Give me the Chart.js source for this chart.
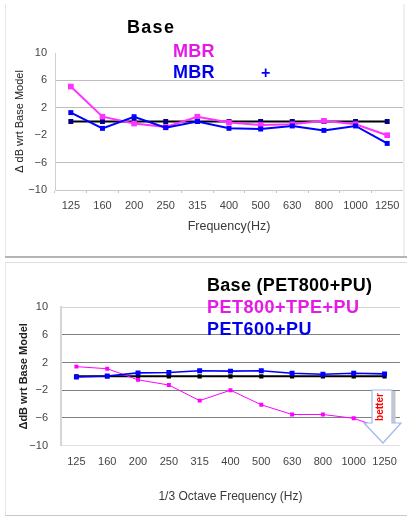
<!DOCTYPE html>
<html><head><meta charset="utf-8">
<script src="https://cdn.jsdelivr.net/npm/chart.js@4"></script>
<style>
html,body{margin:0;padding:0;background:#fff;}
#wrap{position:relative;width:407px;height:517px;overflow:hidden;background:#fff;}
.panel{position:absolute;left:0;width:407px;}
#p1{top:0;height:258px;}
#p2{top:260px;height:257px;}
.ln{position:absolute;}
</style></head><body>
<div id="wrap">
<div class="panel" id="p1"><canvas id="c1" width="407" height="258"></canvas></div>
<div class="panel" id="p2"><canvas id="c2" width="407" height="257"></canvas></div>
<div class="ln" style="left:5px;top:4px;width:1px;height:252px;background:#e6e6e6"></div>
<div class="ln" style="left:403px;top:4px;width:2px;height:252px;background:#f0f0f0"></div>
<div class="ln" style="left:5px;top:256px;width:402px;height:2px;background:#b4b4b4"></div>
<div class="ln" style="left:5px;top:262px;width:402px;height:1px;background:#dcdcdc"></div>
<div class="ln" style="left:5px;top:262px;width:1px;height:253px;background:#e6e6e6"></div>
<div class="ln" style="left:5px;top:515px;width:402px;height:1px;background:#c8c8c8"></div>
</div>
<script>
// ---- data ----
const categories = ['125','160','200','250','315','400','500','630','800','1000','1250'];
const yTickValues = [-10,-6,-2,2,6,10];

const topSeriesNames = ['Base','MBR','MBR +'];
const topBase     = [0,0,0,0,0,0,0,0,0,0,0];
const topMBR      = [5.1,0.7,-0.3,-0.8,0.7,-0.15,-0.5,-0.4,0.1,-0.4,-2.0];
const topMBRPlus  = [1.3,-1.0,0.7,-0.9,0.0,-1.0,-1.1,-0.65,-1.3,-0.65,-3.2];

const botSeriesNames = ['Base (PET800+PU)','PET800+TPE+PU','PET600+PU'];
const botBase     = [0,0,0,0,0,0,0,0,0,0,0];
const botTPE      = [1.4,1.1,-0.5,-1.25,-3.5,-2.0,-4.1,-5.5,-5.5,-6.05,-7.6];
const botPET600   = [-0.1,0.05,0.5,0.55,0.8,0.75,0.8,0.45,0.3,0.45,0.35];

const FONT = "'Liberation Sans', Arial, sans-serif";
const fmt = v => v < 0 ? '\u2212' + Math.abs(v) : String(v);

function textPlugin(id, items) {
  return {
    id,
    afterDraw(chart) {
      const ctx = chart.ctx;
      ctx.save();
      ctx.textBaseline = 'alphabetic';
      ctx.textAlign = 'left';
      items.forEach(it => {
        ctx.font = it.font;
        ctx.fillStyle = it.color;
        ctx.letterSpacing = (it.ls || 0) + 'px';
        ctx.fillText(it.text, it.x, it.y);
      });
      ctx.restore();
    }
  };
}

// ---------- top chart ----------
new Chart(document.getElementById('c1'), {
  type: 'line',
  data: {
    labels: categories,
    datasets: [
      {label: topSeriesNames[2], data: topMBRPlus, borderColor:'#0000ff', backgroundColor:'#0000ff',
       borderWidth:2, pointStyle:'rect', pointRadius:3.5, pointBorderWidth:0, order:0},
      {label: topSeriesNames[1], data: topMBR, borderColor:'#ff33ff', backgroundColor:'#ff33ff',
       borderWidth:2, pointStyle:'rect', pointRadius:4, pointBorderWidth:0, order:1},
      {label: topSeriesNames[0], data: topBase, borderColor:'#000000', backgroundColor:'#000080',
       borderWidth:2, pointStyle:'rect', pointRadius:3.5, pointBorderWidth:0, order:2}
    ]
  },
  options: {
    responsive:false, animation:false, devicePixelRatio:1,
    layout:{padding:{left:5,right:4,top:53,bottom:20}},
    plugins:{legend:{display:false}, tooltip:{enabled:false}},
    elements:{line:{tension:0}},
    scales:{
      x:{
        offset:true,
        grid:{offset:true, drawOnChartArea:false, drawTicks:true, tickLength:3, color:'#c4c4c4'},
        border:{color:'#c8c8c8'},
        ticks:{font:{family:FONT,size:11}, color:'#444', padding:6, maxRotation:0, autoSkip:false},
        title:{display:true, text:'Frequency(Hz)', font:{family:FONT,size:12.5}, color:'#3a3a3a', padding:{top:0,bottom:3.8}},
        afterFit(s){ s.height = 48; }
      },
      y:{
        min:-10, max:10,
        afterBuildTicks(s){ s.ticks = yTickValues.map(v=>({value:v})); },
        grid:{drawTicks:false, color: c => (c.tick && (Math.abs(c.tick.value)===10 || c.tick.value===-2)) ? 'rgba(0,0,0,0)' : '#bdbdbd'},
        border:{color:'#d0d0d0'},
        ticks:{font:{family:FONT,size:11}, color:'#444', padding:8, callback: v => fmt(v)},
        title:{display:true, text:'\u0394 dB wrt Base Model', font:{family:FONT,size:11}, color:'#222', padding:{top:8.5,bottom:0}},
        afterFit(s){ s.width = 50; }
      }
    }
  },
  plugins:[textPlugin('legendTop', [
    {text:'Base', x:127, y:33, font:'bold 18px '+FONT, color:'#000', ls:1.3},
    {text:'MBR', x:173, y:56.5, font:'bold 18px '+FONT, color:'#e619e6', ls:0.3},
    {text:'MBR', x:173, y:78, font:'bold 18px '+FONT, color:'#0000ee', ls:0.3},
    {text:'+', x:261, y:78, font:'bold 16px '+FONT, color:'#0000ee', ls:0}
  ])]
});

// ---------- bottom chart ----------
const arrowPlugin = {
  id:'betterArrow',
  afterDatasetsDraw(chart){
    const ctx = chart.ctx;
    ctx.save();
    ctx.fillStyle = '#c6c6c6';
    ctx.fillRect(392.5, 131, 3, 32);
    ctx.beginPath();
    ctx.moveTo(372, 130);
    ctx.lineTo(392, 130);
    ctx.lineTo(392, 163);
    ctx.lineTo(401, 163);
    ctx.lineTo(383, 183);
    ctx.lineTo(364, 163);
    ctx.lineTo(372, 163);
    ctx.closePath();
    ctx.fillStyle = '#ffffff';
    ctx.fill();
    ctx.strokeStyle = '#9fb6ee';
    ctx.lineWidth = 1.2;
    ctx.stroke();
    ctx.translate(380, 147);
    ctx.rotate(-Math.PI/2);
    ctx.fillStyle = '#ff0000';
    ctx.font = 'bold 10px ' + FONT;
    ctx.textAlign = 'center';
    ctx.textBaseline = 'middle';
    ctx.fillText('better', 0, 0);
    ctx.restore();
  }
};

new Chart(document.getElementById('c2'), {
  type: 'line',
  data: {
    labels: categories,
    datasets: [
      {label: botSeriesNames[2], data: botPET600, borderColor:'#0000ff', backgroundColor:'#0000ff',
       borderWidth:1.6, pointStyle:'rect', pointRadius:3.5, pointBorderWidth:0, order:0},
      {label: botSeriesNames[1], data: botTPE, borderColor:'#ff00ff', backgroundColor:'#ff00ff',
       borderWidth:1, pointStyle:'rect', pointRadius:2.8, pointBorderWidth:0, order:1},
      {label: botSeriesNames[0], data: botBase, borderColor:'#000000', backgroundColor:'#000000',
       borderWidth:2, pointStyle:'rect', pointRadius:3, pointBorderWidth:0, order:2}
    ]
  },
  options: {
    responsive:false, animation:false, devicePixelRatio:1,
    layout:{padding:{left:5,right:5,top:47,bottom:10}},
    plugins:{legend:{display:false}, tooltip:{enabled:false}},
    elements:{line:{tension:0}},
    scales:{
      x:{
        offset:true,
        grid:{offset:true, drawOnChartArea:false, drawTicks:false},
        border:{color:'#e0e0e0'},
        ticks:{font:{family:FONT,size:11}, color:'#444', padding:10, maxRotation:0, autoSkip:false},
        title:{display:true, text:'1/3 Octave Frequency (Hz)', font:{family:FONT,size:12}, color:'#3a3a3a', padding:{top:0,bottom:3.5}},
        afterFit(s){ s.height = 61.3; }
      },
      y:{
        min:-10, max:10,
        afterBuildTicks(s){ s.ticks = yTickValues.map(v=>({value:v})); },
        grid:{drawTicks:false, color: c => {
          if (!c.tick) return '#808080';
          if (c.tick.value === 10) return '#d4d4d4';
          if (c.tick.value === -10) return 'rgba(0,0,0,0)';
          return '#808080';
        }},
        border:{color:'#d6d6d6', width:2},
        ticks:{font:{family:FONT,size:11}, color:'#444', padding:13, callback: v => fmt(v)},
        title:{display:true, text:'\u0394dB wrt Base Model', font:{family:FONT,size:11,weight:'bold'}, color:'#222', padding:{top:12,bottom:0}},
        afterFit(s){ s.width = 56; }
      }
    }
  },
  plugins:[arrowPlugin, textPlugin('legendBot', [
    {text:'Base (PET800+PU)', x:207, y:31.3, font:'bold 18px '+FONT, color:'#000', ls:0.3},
    {text:'PET800+TPE+PU', x:207, y:53, font:'bold 18px '+FONT, color:'#e619e6', ls:0.5},
    {text:'PET600+PU', x:207, y:74.7, font:'bold 18px '+FONT, color:'#0000ee', ls:0.5}
  ])]
});
</script>
</body></html>
